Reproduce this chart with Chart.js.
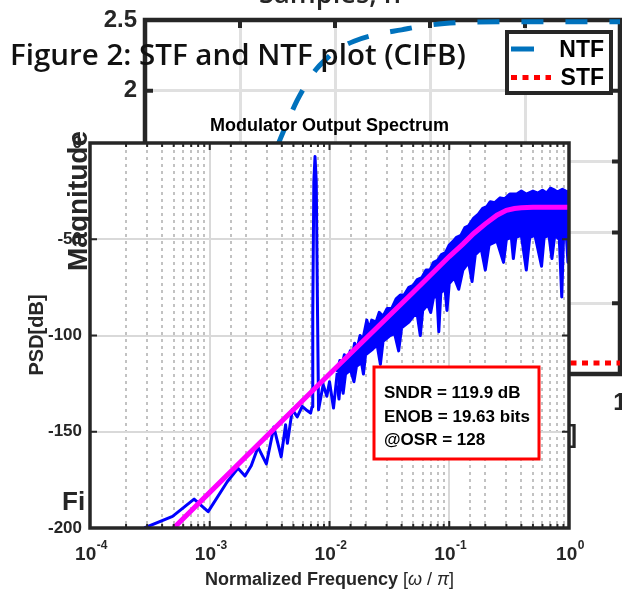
<!DOCTYPE html>
<html>
<head>
<meta charset="utf-8">
<script src="https://cdn.jsdelivr.net/npm/chart.js@4.4.0/dist/chart.umd.min.js"></script>
<style>
html, body { margin: 0; padding: 0; background: #fff; }
#wrap { position: relative; width: 622px; height: 590px; overflow: hidden; }
canvas { position: absolute; left: 0; top: 0; }
</style>
</head>
<body>
<div id="wrap">
  <canvas id="bgChart" width="622" height="590"></canvas>
  <canvas id="psdChart" width="622" height="590"></canvas>
</div>
<script>
// figure behind the spectrum (STF / NTF plot)
const ntfX = [0, 0.1, 0.2, 0.25, 0.28, 0.3, 0.32, 0.34, 0.36, 0.38, 0.4, 0.44, 0.49, 0.54, 0.58, 0.63, 0.7, 1];
const ntfY = [0, 0.3, 0.9, 1.35, 1.62, 1.78, 1.93, 2.05, 2.15, 2.22, 2.28, 2.35, 2.4, 2.43, 2.455, 2.475, 2.486, 2.488];
const stfX = [0, 1];
const stfY = [0.078, 0.078];

// modulator output spectrum: single line (low freq + signal tone)
const psdLowF = [2.84e-4, 4.89e-4, 7.4e-4, 9.7e-4, 1.4e-3, 1.72e-3, 1.97e-3, 2.22e-3, 2.53e-3, 2.97e-3,
  3.43e-3, 3.95e-3, 4.3e-3, 4.45e-3, 4.89e-3, 5.38e-3, 5.92e-3, 6.5e-3, 6.95e-3, 7.15e-3,
  7.25e-3, 7.4e-3, 7.57e-3, 7.75e-3, 7.95e-3, 8.1e-3, 8.86e-3, 9.5e-3, 1.0e-2, 1.08e-2, 1.16e-2];
const psdLowDb = [-200, -194, -185, -191.5, -176, -169, -173, -167.7, -158, -166.7,
  -147.6, -163, -146.4, -156, -138.5, -142.3, -136.8, -139, -140.3, -137,
  -90, -20, -7, -20, -90, -138.5, -125.5, -131.6, -124, -137.7, -119.4];

// shaped noise band: top edge
const bandUpF = [1.16e-2, 1.22e-2, 1.27e-2, 1.33e-2, 1.4e-2, 1.49e-2, 1.55e-2, 1.62e-2, 1.7e-2, 1.8e-2,
  1.9e-2, 2.05e-2, 2.15e-2, 2.25e-2, 2.45e-2, 2.6e-2, 2.8e-2, 3.03e-2, 3.3e-2, 3.6e-2,
  3.9e-2, 4.2e-2, 4.6e-2, 5.0e-2, 5.4e-2, 5.9e-2, 6.4e-2, 6.9e-2, 7.4e-2, 8.0e-2,
  8.6e-2, 9.3e-2, 0.1, 0.108, 0.115, 0.125, 0.135, 0.145, 0.16, 0.175,
  0.19, 0.206, 0.22, 0.24, 0.266, 0.29, 0.32, 0.366, 0.4, 0.44,
  0.5, 0.55, 0.6, 0.65, 0.7, 0.76, 0.8, 0.88, 0.94, 1.0];
const bandUpDb = [-119, -113, -116, -110, -114, -108, -111, -104, -107, -100,
  -102, -92, -97, -92, -93, -88, -90, -86, -86, -81,
  -79, -79, -75, -74, -71, -70, -66, -66, -62, -61,
  -58, -57, -53, -51, -49, -48, -44, -43, -39, -37,
  -34, -33, -30.5, -31, -28.5, -29, -26.5, -26.5, -25, -26.5,
  -25, -26, -24.5, -26, -23.5, -24.5, -25.5, -24, -25, -25.5];

// shaped noise band: bottom edge with downward spikes
const bandLowF = [1.16e-2, 1.2e-2, 1.24e-2, 1.3e-2, 1.36e-2, 1.5e-2, 1.6e-2, 1.68e-2, 1.85e-2, 1.92e-2,
  2.0e-2, 2.3e-2, 2.5e-2, 2.66e-2, 2.8e-2, 3.2e-2, 3.5e-2, 3.78e-2, 4.0e-2, 4.6e-2,
  5.0e-2, 5.4e-2, 5.73e-2, 6.0e-2, 6.6e-2, 7.0e-2, 7.4e-2, 7.9e-2, 8.18e-2, 8.5e-2,
  9.2e-2, 9.57e-2, 0.1, 0.11, 0.12, 0.13, 0.145, 0.155, 0.165, 0.185,
  0.2, 0.215, 0.25, 0.284, 0.3, 0.33, 0.343, 0.36, 0.4, 0.44,
  0.47, 0.52, 0.59, 0.62, 0.68, 0.72, 0.76, 0.83, 0.87, 0.9,
  0.95, 0.98, 1.0];
const bandLowDb = [-126, -133, -122, -130, -120, -118, -124, -116, -114, -120,
  -110, -107, -105, -115, -103, -100, -99, -108, -96, -93,
  -90, -89, -100, -87, -84, -88, -80, -80, -98, -78,
  -75, -87, -73, -70, -76, -66, -62, -72, -58, -55,
  -66, -53, -51, -62, -50, -49, -60, -49, -48, -66,
  -49, -48, -64, -49, -48, -60, -48, -50, -80, -49,
  -48, -62, -48];

// fitted NTF curve (magenta)
const fitF = [5e-4, 1e-3, 1e-2, 0.05, 0.1, 0.13, 0.16, 0.2, 0.25, 0.3, 0.35, 0.4, 0.5, 1];
const fitDb = [-200, -181.5, -120, -77.5, -59, -52.5, -47, -42, -37.5, -35, -34, -33.6, -33.4, -33.4];

const xExponents = [-4, -3, -2, -1, 0];
const noteLines = ["SNDR = 119.9 dB", "ENOB = 19.63 bits", "@OSR = 128"];

const dark = "#262626";
const sans = '"Liberation Sans", Arial, sans-serif';
const captionFont = '"Open Sans", "Noto Sans", sans-serif';

function pts(xs, ys) {
    return xs.map((x, i) => ({ x: x, y: ys[i] }));
}

function isDecade(v) {
    const l = Math.log10(v);
    return Math.abs(l - Math.round(l)) < 1e-6;
}

// draw text squeezed/stretched to a given width
function fitText(ctx, text, weight, size, x, y, width) {
    ctx.font = weight + " " + size + "px " + captionFont;
    const w = ctx.measureText(text).width;
    ctx.font = weight + " " + (size * width / w).toFixed(2) + "px " + captionFont;
    ctx.fillText(text, x, y);
}

const bgDecor = {
    id: "bgDecor",
    beforeDatasetsDraw(chart) {
        const { ctx, chartArea: a, scales: { x, y } } = chart;
        ctx.save();
        ctx.strokeStyle = dark;
        ctx.lineWidth = 4;
        ctx.beginPath();
        x.ticks.forEach(t => {
            const px = x.getPixelForValue(t.value);
            ctx.moveTo(px, a.top); ctx.lineTo(px, a.top + 8);
            ctx.moveTo(px, a.bottom); ctx.lineTo(px, a.bottom - 8);
        });
        y.ticks.forEach(t => {
            const py = y.getPixelForValue(t.value);
            ctx.moveTo(a.left, py); ctx.lineTo(a.left + 8, py);
            ctx.moveTo(a.right, py); ctx.lineTo(a.right - 8, py);
        });
        ctx.stroke();
        ctx.lineWidth = 4.5;
        ctx.strokeRect(a.left, a.top, a.right - a.left, a.bottom - a.top);
        ctx.restore();
    },
    afterDraw(chart) {
        const { ctx, chartArea: a, scales: { x, y } } = chart;
        ctx.save();
        ctx.fillStyle = dark;

        // tick labels (most of them end up under the spectrum plot)
        ctx.font = "bold 24px " + sans;
        ctx.textAlign = "right";
        ctx.textBaseline = "middle";
        y.ticks.forEach(t => ctx.fillText(String(t.value), a.left - 8, y.getPixelForValue(t.value)));
        ctx.textAlign = "center";
        ctx.textBaseline = "alphabetic";
        x.ticks.forEach(t => ctx.fillText(String(Number(t.value.toFixed(1))), x.getPixelForValue(t.value), 410));

        // axis titles and captions
        ctx.textAlign = "left";
        fitText(ctx, "Samples, n", "600", 26, 259, 3, 142);
        ctx.font = "bold 26px " + sans;
        ctx.fillText("Fi", 62, 510);
        ctx.textAlign = "right";
        ctx.font = "bold 25px " + sans;
        ctx.fillText("]", 577, 443);

        ctx.save();
        ctx.translate(87, 201);
        ctx.rotate(-Math.PI / 2);
        ctx.textAlign = "center";
        ctx.font = "bold 28px " + sans;
        ctx.fillText("Magnitude", 0, 0);
        ctx.restore();

        ctx.fillStyle = "#111";
        ctx.textAlign = "left";
        fitText(ctx, "Figure 2: STF and NTF plot (CIFB)", "600", 30, 10, 65, 456);

        // legend
        ctx.fillStyle = "#fff";
        ctx.fillRect(507, 32, 104, 61);
        ctx.strokeStyle = dark;
        ctx.lineWidth = 4;
        ctx.strokeRect(507, 32, 104, 61);
        ctx.lineWidth = 5;
        ctx.strokeStyle = "#0072BD";
        ctx.beginPath(); ctx.moveTo(511, 49); ctx.lineTo(534, 49); ctx.stroke();
        ctx.strokeStyle = "#FF0000";
        ctx.setLineDash([6, 5.5]);
        ctx.beginPath(); ctx.moveTo(511, 77.5); ctx.lineTo(551, 77.5); ctx.stroke();
        ctx.setLineDash([]);
        ctx.fillStyle = "#000";
        ctx.textAlign = "right";
        ctx.font = "bold 23px " + sans;
        ctx.fillText("NTF", 604, 57);
        ctx.fillText("STF", 604, 85);
        ctx.restore();
    }
};

const psdDecor = {
    id: "psdDecor",
    beforeDraw(chart) {
        const { ctx, chartArea: a } = chart;
        ctx.save();
        ctx.fillStyle = "#fff";
        ctx.fillRect(a.left, a.top, a.right - a.left, a.bottom - a.top);
        ctx.restore();
    },
    afterDatasetsDraw(chart) {
        const { ctx, chartArea: a, scales: { x, y } } = chart;
        ctx.save();
        ctx.strokeStyle = dark;
        ctx.lineWidth = 2;
        ctx.beginPath();
        x.ticks.forEach(t => {
            const px = x.getPixelForValue(t.value);
            const len = isDecade(t.value) ? 7 : 4;
            ctx.moveTo(px, a.top); ctx.lineTo(px, a.top + len);
            ctx.moveTo(px, a.bottom); ctx.lineTo(px, a.bottom - len);
        });
        y.ticks.forEach(t => {
            const py = y.getPixelForValue(t.value);
            ctx.moveTo(a.left, py); ctx.lineTo(a.left + 7, py);
            ctx.moveTo(a.right, py); ctx.lineTo(a.right - 7, py);
        });
        ctx.stroke();
        ctx.lineWidth = 3.5;
        ctx.strokeRect(a.left, a.top, a.right - a.left, a.bottom - a.top);
        ctx.restore();
    },
    afterDraw(chart) {
        const { ctx, chartArea: a, scales: { x, y } } = chart;
        const mid = (a.left + a.right) / 2;
        ctx.save();
        ctx.fillStyle = dark;

        ctx.font = "bold 17px " + sans;
        ctx.textAlign = "right";
        ctx.textBaseline = "middle";
        y.ticks.forEach(t => ctx.fillText(String(t.value), a.left - 8, y.getPixelForValue(t.value)));

        ctx.textBaseline = "alphabetic";
        ctx.textAlign = "left";
        xExponents.forEach(e => {
            const px = x.getPixelForValue(Math.pow(10, e));
            const sup = String(e);
            ctx.font = "bold 19px " + sans;
            const w1 = ctx.measureText("10").width;
            ctx.font = "bold 12px " + sans;
            const w2 = ctx.measureText(sup).width;
            const x0 = px + 1 - (w1 + w2) / 2;
            ctx.font = "bold 19px " + sans;
            ctx.fillText("10", x0, 560);
            ctx.font = "bold 12px " + sans;
            ctx.fillText(sup, x0 + w1 + 0.5, 549);
        });

        // title
        ctx.fillStyle = "#000";
        ctx.textAlign = "center";
        ctx.font = "bold 18px " + sans;
        ctx.fillText("Modulator Output Spectrum", mid, 131);

        // x label with italic omega / pi
        ctx.fillStyle = dark;
        const parts = [
            ["Normalized Frequency ", "bold 18px " + sans],
            ["[", "18px " + sans],
            ["\u03C9", "italic 18px " + sans],
            [" / ", "18px " + sans],
            ["\u03C0", "italic 18px " + sans],
            ["]", "18px " + sans]
        ];
        let total = 0;
        parts.forEach(p => { ctx.font = p[1]; total += ctx.measureText(p[0]).width; });
        let cx = mid - total / 2;
        ctx.textAlign = "left";
        parts.forEach(p => {
            ctx.font = p[1];
            ctx.fillText(p[0], cx, 585);
            cx += ctx.measureText(p[0]).width;
        });

        // y label
        ctx.save();
        ctx.translate(37, 335);
        ctx.rotate(-Math.PI / 2);
        ctx.textAlign = "center";
        ctx.textBaseline = "middle";
        ctx.font = "bold 20px " + sans;
        ctx.fillText("PSD[dB]", 0, 0);
        ctx.restore();

        // result box
        ctx.fillStyle = "#fff";
        ctx.fillRect(374, 367, 165, 92);
        ctx.strokeStyle = "#FF0000";
        ctx.lineWidth = 3;
        ctx.strokeRect(374, 367, 165, 92);
        ctx.fillStyle = "#000";
        ctx.textAlign = "left";
        ctx.font = "bold 17px " + sans;
        noteLines.forEach((s, i) => ctx.fillText(s, 384, 398 + i * 23.5));
        ctx.restore();
    }
};

new Chart(document.getElementById("bgChart"), {
    type: "line",
    data: {
        datasets: [{
            label: "NTF",
            data: pts(ntfX, ntfY),
            borderColor: "#0072BD",
            borderWidth: 5,
            borderDash: [22, 22],
            cubicInterpolationMode: "monotone",
            pointRadius: 0,
            fill: false,
            clip: false
        }, {
            label: "STF",
            data: pts(stfX, stfY),
            borderColor: "#FF0000",
            borderWidth: 5,
            borderDash: [6, 5.5],
            pointRadius: 0,
            fill: false,
            clip: false
        }]
    },
    options: {
        responsive: false,
        animation: false,
        events: [],
        layout: { padding: { left: 145, top: 20, right: 2, bottom: 216 } },
        plugins: { legend: { display: false }, tooltip: { enabled: false } },
        scales: {
            x: {
                type: "linear", min: 0, max: 1,
                ticks: { display: false, stepSize: 0.2 },
                grid: { drawTicks: false, color: "#e0e0e0", lineWidth: 3 },
                border: { display: false }
            },
            y: {
                min: 0, max: 2.5,
                ticks: { display: false, stepSize: 0.5 },
                grid: { drawTicks: false, color: "#e0e0e0", lineWidth: 3 },
                border: { display: false }
            }
        }
    },
    plugins: [bgDecor]
});

new Chart(document.getElementById("psdChart"), {
    type: "line",
    data: {
        datasets: [{
            label: "fit",
            data: pts(fitF, fitDb),
            borderColor: "#FF00FF",
            borderWidth: 5,
            pointRadius: 0,
            fill: false
        }, {
            label: "psd",
            data: pts(psdLowF, psdLowDb),
            borderColor: "#0000FF",
            borderWidth: 3,
            borderJoinStyle: "round",
            pointRadius: 0,
            fill: false
        }, {
            label: "band top",
            data: pts(bandUpF, bandUpDb),
            borderColor: "#0000FF",
            borderWidth: 3,
            borderJoinStyle: "round",
            pointRadius: 0,
            fill: false
        }, {
            label: "band bottom",
            data: pts(bandLowF, bandLowDb),
            borderColor: "#0000FF",
            backgroundColor: "#0000FF",
            borderWidth: 3,
            borderJoinStyle: "round",
            pointRadius: 0,
            fill: "-1"
        }]
    },
    options: {
        responsive: false,
        animation: false,
        events: [],
        layout: { padding: { left: 90, top: 143, right: 53, bottom: 62 } },
        plugins: { legend: { display: false }, tooltip: { enabled: false } },
        scales: {
            x: {
                type: "logarithmic", min: 1e-4, max: 1,
                ticks: { display: false },
                grid: {
                    drawTicks: false,
                    lineWidth: 2,
                    color: c => (c.tick && isDecade(c.tick.value)) ? "#d9d9d9" : "#c2c2c2"
                },
                border: {
                    display: false,
                    dash: c => (c.tick && !isDecade(c.tick.value)) ? [3, 4] : []
                }
            },
            y: {
                min: -200, max: 0,
                ticks: { display: false, stepSize: 50 },
                grid: { drawTicks: false, color: "#d9d9d9", lineWidth: 2 },
                border: { display: false }
            }
        }
    },
    plugins: [psdDecor]
});
</script>
</body>
</html>
